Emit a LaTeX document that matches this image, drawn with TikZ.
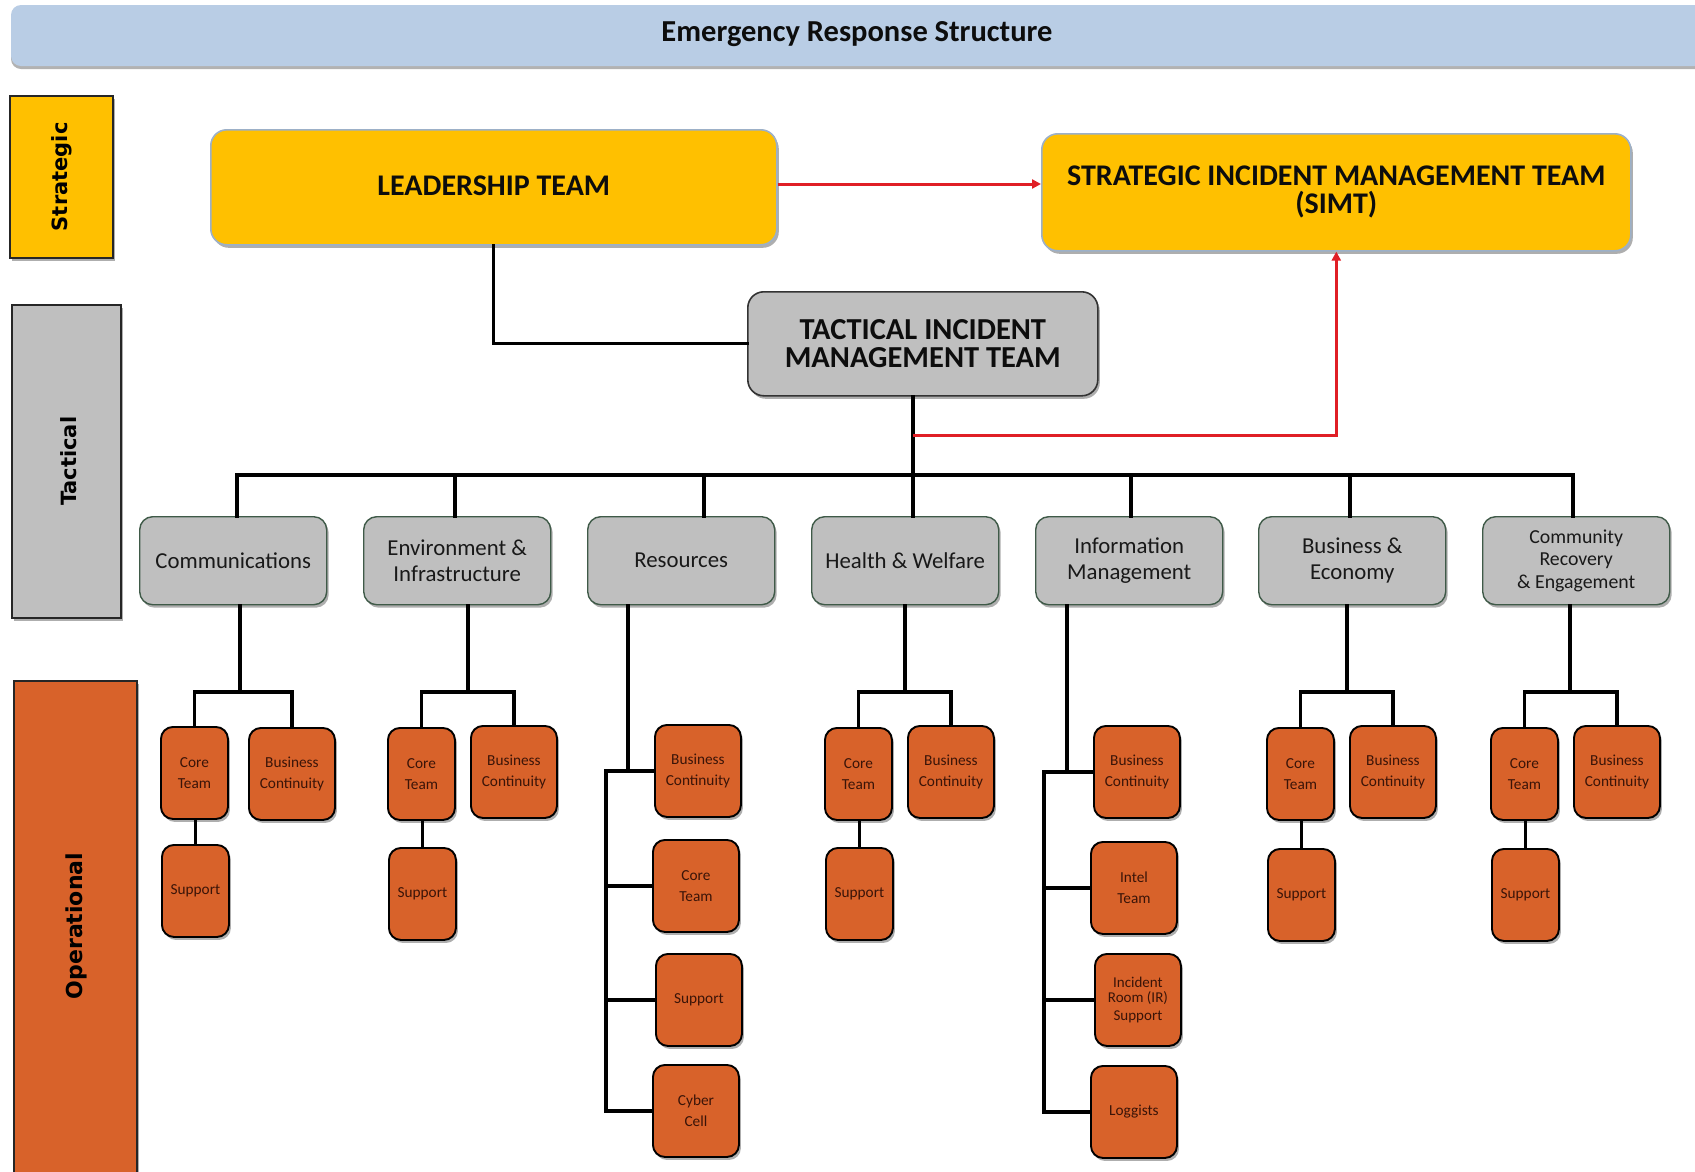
\documentclass[tikz,border=0pt]{standalone}
\usepackage{fontspec}
\setmainfont{Carlito}
\newfontfamily\sidefont{DejaVu Sans}
\usetikzlibrary{shadows,arrows.meta,calc}

\definecolor{titleblue}{HTML}{B9CDE5}
\definecolor{gold}{HTML}{FFC000}
\definecolor{goldedge}{HTML}{9CB0C8}
\definecolor{tacgray}{HTML}{BFBFBF}
\definecolor{tacedge}{HTML}{3F5A48}
\definecolor{opor}{HTML}{D8622A}
\definecolor{optext}{HTML}{3A1408}
\definecolor{linkred}{HTML}{E01F26}

\tikzset{
  shade box/.style={drop shadow={shadow xshift=2pt,shadow yshift=-3pt,opacity=0.45,fill=black!70}},
  sidebar/.style={draw=black!85,line width=1.6pt,anchor=north west,inner sep=0pt,shade box},
  sidetext/.style={rotate=90,font=\sidefont\bfseries\fontsize{21}{24}\selectfont,text=black},
  stratbox/.style={draw=goldedge,line width=1.6pt,fill=gold,rounded corners=16pt,anchor=north west,
    inner sep=0pt,align=center,font=\bfseries\fontsize{30}{28}\selectfont,text=black!95,shade box},
  tacmain/.style={draw=black!80,line width=1.6pt,fill=tacgray,rounded corners=16pt,anchor=north west,
    inner sep=0pt,align=center,font=\bfseries\fontsize{30.5}{28}\selectfont,text=black!95,shade box},
  tacbox/.style={draw=tacedge,line width=1.4pt,fill=tacgray,rounded corners=13pt,anchor=north west,
    inner sep=0pt,align=center,minimum width=187pt,minimum height=88pt,
    font=\fontsize{22.8}{26}\selectfont,text=black!90,shade box},
  opbox/.style={draw=black,line width=1.9pt,fill=opor,rounded corners=12pt,anchor=north west,
    inner sep=0pt,align=center,minimum height=92pt,text=optext,
    font=\fontsize{15.3}{21}\selectfont,shade box},
  narrow/.style={opbox,minimum width=67pt},
  wide/.style={opbox,minimum width=86pt},
  link/.style={draw=black,line width=3.1pt,line cap=rect},
  redlink/.style={draw=linkred,line width=3pt,-{Triangle[length=9pt,width=9pt]}},
}

% A two-level branch: core team with support below, business continuity beside it
% #1 prefix, #2 parent node, #3 junction x, #4/#5 core, #6/#7 continuity, #8/#9 support
\newcommand\pairbranch[9]{%
  \node[narrow] (#1core) at (#4,#5) {Core\\Team};
  \node[wide] (#1bc) at (#6,#7) {Business\\Continuity};
  \node[narrow] (#1sup) at (#8,#9) {Support};
  \coordinate (#1j) at (#3,692);
  \draw[link] (#2.south -| #1j) -- (#1j);
  \draw[link] (#1core.north) -- (#1core.north |- #1j) -- (#1bc.north |- #1j) -- (#1bc.north);
  \draw[link] (#1sup.north) -- (#1sup.north |- #1core.south);
}

\begin{document}
\begin{tikzpicture}[x=1pt,y=-1pt]
\useasboundingbox (0,0) rectangle (1695,1171);
\clip (0,0) rectangle (1695,1171);

% heading band
\fill[titleblue,rounded corners=10pt,drop shadow={shadow xshift=0pt,shadow yshift=-3pt,opacity=0.5,fill=black!60}]
  (11,5) rectangle (1720,66);
\node[font=\bfseries\fontsize{30.5}{30}\selectfont,text=black!95] (title) at (857,34) {Emergency Response Structure};

% level bars on the left
\node[sidebar,fill=gold,minimum width=103pt,minimum height=162pt] (lvS) at (9,95) {};
\node[sidetext] at (lvS.center) {Strategic};
\node[sidebar,fill=tacgray,minimum width=109pt,minimum height=313pt] (lvT) at (11,304) {};
\node[sidetext] at ([xshift=2pt]lvT.center) {Tactical};
\node[sidebar,fill=opor,minimum width=123pt,minimum height=520pt] (lvO) at (13,680) {};
\node[sidetext,font=\sidefont\bfseries\fontsize{22}{24}\selectfont] at (76,926) {Operational};

% strategic level
\node[stratbox,minimum width=566pt,minimum height=115pt] (lead) at (210,129) {\raisebox{3pt}{LEADERSHIP TEAM}};
\node[stratbox,minimum width=589pt,minimum height=117pt] (simt) at (1041,133)
  {STRATEGIC INCIDENT MANAGEMENT TEAM\\(SIMT)};

% tactical command
\node[tacmain,minimum width=350pt,minimum height=104pt] (timt) at (747,291)
  {TACTICAL INCIDENT\\MANAGEMENT TEAM};

\draw[redlink] (lead.east |- 0,184) -- (simt.west |- 0,184);
\draw[link] (lead.south) |- (timt.west);

% tactical cells
\node[tacbox] (comm) at (139,516) {Communications};
\node[tacbox] (env)  at (363,516) {Environment \&\\Infrastructure};
\node[tacbox] (res)  at (587,516) {Resources};
\node[tacbox] (hw)   at (811,516) {Health \& Welfare};
\node[tacbox] (info) at (1035,516) {Information\\Management};
\node[tacbox] (bus)  at (1258,516) {Business \&\\Economy};
\node[tacbox,font=\fontsize{19.8}{22.5}\selectfont] (comr) at (1482,516) {Community\\Recovery\\\& Engagement};

% distribution bus
\coordinate (tj) at (913,475);
\coordinate (rj) at (913,435);
\coordinate (b1) at (237,475);
\coordinate (b2) at (455,475);
\coordinate (b3) at (704,475);
\coordinate (b5) at (1131,475);
\coordinate (b6) at (1350,475);
\coordinate (b7) at (1573,475);
\draw[link] (timt.south -| tj) -- (tj);
\draw[link] (b1) -- (b7);
\draw[link] (b1) -- (b1 |- comm.north);
\draw[link] (b2) -- (b2 |- env.north);
\draw[link] (b3) -- (b3 |- res.north);
\draw[link] (tj) -- (tj |- hw.north);
\draw[link] (b5) -- (b5 |- info.north);
\draw[link] (b6) -- (b6 |- bus.north);
\draw[link] (b7) -- (b7 |- comr.north);
\draw[redlink] (rj) -| (simt.south);

% operational branches
\pairbranch{cm}{comm}{240}{160}{726}{248}{727}{161}{844}
\pairbranch{en}{env}{468}{387}{727}{470}{725}{388}{847}
\pairbranch{hw}{hw}{905}{824}{727}{907}{725}{825}{847}
\pairbranch{be}{bus}{1347}{1266}{727}{1349}{725}{1267}{848}
\pairbranch{cr}{comr}{1570}{1490}{727}{1573}{725}{1491}{848}

% resources column
\node[wide] (rsbc)  at (654,724)  {Business\\Continuity};
\node[wide] (rscore) at (652,839) {Core\\Team};
\node[wide] (rssup) at (655,953)  {Support};
\node[wide] (rscyb) at (652,1064) {Cyber\\Cell};
\coordinate (rsd) at (628,0);
\coordinate (rsb) at (606,0);
\draw[link] (res.south -| rsd) -- (rsd |- rsbc.west);
\draw[link] (rsb |- rsbc.west) -- (rsb |- rscyb.west);
\draw[link] (rsb |- rsbc.west) -- (rsbc.west);
\draw[link] (rsb |- rscore.west) -- (rscore.west);
\draw[link] (rsb |- rssup.west) -- (rssup.west);
\draw[link] (rsb |- rscyb.west) -- (rscyb.west);

% information column
\node[wide] (imbc)  at (1093,725) {Business\\Continuity};
\node[wide] (imint) at (1090,841) {Intel\\Team};
\node[wide,font=\fontsize{15}{15}\selectfont] (imir) at (1094,953) {Incident\\Room (IR)\\[3pt]Support};
\node[wide] (imlog) at (1090,1065) {Loggists};
\coordinate (imd) at (1067,0);
\coordinate (imb) at (1044,0);
\draw[link] (info.south -| imd) -- (imd |- imbc.west);
\draw[link] (imb |- imbc.west) -- (imb |- imlog.west);
\draw[link] (imb |- imbc.west) -- (imbc.west);
\draw[link] (imb |- imint.west) -- (imint.west);
\draw[link] (imb |- imir.west) -- (imir.west);
\draw[link] (imb |- imlog.west) -- (imlog.west);
\end{tikzpicture}
\end{document}
